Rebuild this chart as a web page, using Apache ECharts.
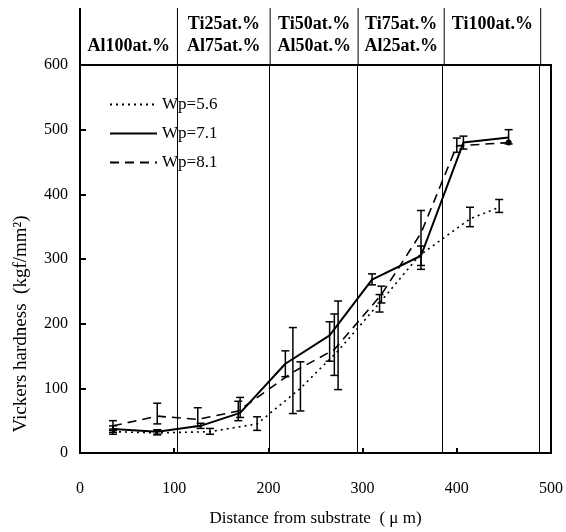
<!DOCTYPE html>
<html><head><meta charset="utf-8">
<script src="https://cdn.jsdelivr.net/npm/echarts@6/dist/echarts.min.js"></script>
<style>html,body{margin:0;padding:0;background:#fff}#c{width:566px;height:532px}</style>
</head><body><div id="c"></div>
<script>
// ---- data ----
const seriesNames = ['Wp=5.6', 'Wp=7.1', 'Wp=8.1'];
const x56 = [35, 82, 138, 188, 234, 274, 318, 360, 414, 445];
const y56 = [33, 31, 33, 45, 100, 158, 232, 305, 362, 380];
const lo56 = [29, 28, 29, 35, 65, 98, 218, null, 350, 372];
const hi56 = [37, 35, 38, 56, 141, 235, 245, null, 380, 392];

const x71 = [35, 82, 128, 170, 218, 265, 310, 362, 407, 455];
const y71 = [37, 33, 42, 62, 138, 182, 268, 305, 480, 488];
const lo71 = [32, 29, 38, 55, 118, 142, 260, 284, 470, 478];
const hi71 = [42, 36, 46, 86, 158, 203, 277, 320, 490, 500];

const x81 = [35, 82, 125, 168, 226, 270, 320, 362, 400, 455];
const y81 = [42, 57, 52, 65, 125, 160, 245, 340, 475, 480];
const lo81 = [35, 45, 41, 50, 61, 120, 232, 290, 465, null];
const hi81 = [50, 77, 70, 80, 194, 215, 258, 375, 487, null];

const xTicks = [0, 100, 200, 300, 400, 500];
const yTicks = [0, 100, 200, 300, 400, 500, 600];
const regionBounds = [0, 103, 201, 294, 385, 487];
const regionTop = ['', 'Ti25at.%', 'Ti50at.%', 'Ti75at.%', 'Ti100at.%'];
const regionBottom = ['Al100at.%', 'Al75at.%', 'Al50at.%', 'Al25at.%', ''];
const xName = 'Distance from substrate  ( \u03bc m)';
const yName = 'Vickers hardness  (kgf/mm\u00b2)';

// ---- build ----
const FONT = '"Liberation Serif", "DejaVu Serif", serif';
function pairs(xs, ys) { return xs.map((x, i) => [x, ys[i]]); }
function bars(xs, lo, hi) {
  const out = [];
  xs.forEach((x, i) => { if (lo[i] != null) out.push([x, lo[i], hi[i]]); });
  return out;
}
function errRender(params, api) {
  const x = api.value(0);
  const a = api.coord([x, api.value(1)]);
  const b = api.coord([x, api.value(2)]);
  const w = 4;
  const st = { stroke: '#000', lineWidth: 1.5 };
  return { type: 'group', children: [
    { type: 'line', shape: { x1: a[0], y1: a[1], x2: b[0], y2: b[1] }, style: st },
    { type: 'line', shape: { x1: a[0] - w, y1: a[1], x2: a[0] + w, y2: a[1] }, style: st },
    { type: 'line', shape: { x1: b[0] - w, y1: b[1], x2: b[0] + w, y2: b[1] }, style: st }
  ]};
}
const headerLabels = regionTop.map((t, i) => [(regionBounds[i] + regionBounds[i + 1]) / 2, t, regionBottom[i]]);

const chart = echarts.init(document.getElementById('c'));
chart.setOption({
  animation: false,
  backgroundColor: '#fff',
  grid: [
    { left: 80, right: 13, top: 65, bottom: 71, show: true, borderColor: '#000', borderWidth: 2 },
    { left: 80, right: 13, top: 8, height: 57 }
  ],
  xAxis: [
    { type: 'value', gridIndex: 0, min: xTicks[0], max: xTicks[xTicks.length - 1], interval: 100,
      axisLine: { lineStyle: { color: '#000', width: 2 } },
      axisTick: { inside: true, length: 5, lineStyle: { color: '#000', width: 2 } },
      axisLabel: { color: '#000', fontFamily: FONT, fontSize: 16, margin: 28 },
      splitLine: { show: false },
      name: xName, nameLocation: 'middle', nameGap: 57,
      nameTextStyle: { color: '#000', fontFamily: FONT, fontSize: 17 } },
    { type: 'value', gridIndex: 1, min: 0, max: 500, show: false }
  ],
  yAxis: [
    { type: 'value', gridIndex: 0, min: yTicks[0], max: yTicks[yTicks.length - 1], interval: 100,
      axisLine: { lineStyle: { color: '#000', width: 2 } },
      axisTick: { inside: true, length: 6, lineStyle: { color: '#000', width: 2 } },
      axisLabel: { color: '#000', fontFamily: FONT, fontSize: 16, margin: 12 },
      splitLine: { show: false },
      name: yName, nameLocation: 'middle', nameGap: 49, nameRotate: 90,
      nameTextStyle: { color: '#000', fontFamily: FONT, fontSize: 19, padding: [0, 130, 0, 0] } },
    { type: 'value', gridIndex: 1, min: 0, max: 1, show: false }
  ],
  legend: {
    orient: 'vertical', left: 104, top: 91, itemGap: 12, itemWidth: 47, itemHeight: 14,
    data: seriesNames,
    itemStyle: { opacity: 0, borderWidth: 0 },
    textStyle: { color: '#000', fontFamily: FONT, fontSize: 17 }
  },
  series: [
    { name: seriesNames[0], type: 'line', data: pairs(x56, y56), symbol: 'none',
      lineStyle: { color: '#000', width: 1.6, type: [2, 4] }, itemStyle: { color: '#000' } },
    { name: seriesNames[1], type: 'line', data: pairs(x71, y71), symbol: 'none',
      lineStyle: { color: '#000', width: 2, type: 'solid' }, itemStyle: { color: '#000' },
      markLine: { silent: true, symbol: 'none', label: { show: false },
        lineStyle: { color: '#000', width: 1, type: 'solid' },
        data: regionBounds.slice(1).map(v => ({ xAxis: v })) } },
    { name: seriesNames[2], type: 'line', data: pairs(x81, y81), symbol: 'circle', showSymbol: true,
      symbolSize: function (v, p) { return p.dataIndex === x81.length - 1 ? 6 : 0; },
      lineStyle: { color: '#000', width: 1.6, type: [9, 6] }, itemStyle: { color: '#000' } },
    { type: 'custom', renderItem: errRender, data: bars(x56, lo56, hi56), xAxisIndex: 0, yAxisIndex: 0, silent: true },
    { type: 'custom', renderItem: errRender, data: bars(x71, lo71, hi71), xAxisIndex: 0, yAxisIndex: 0, silent: true },
    { type: 'custom', renderItem: errRender, data: bars(x81, lo81, hi81), xAxisIndex: 0, yAxisIndex: 0, silent: true },
    { type: 'custom', xAxisIndex: 1, yAxisIndex: 1, silent: true, data: regionBounds,
      renderItem: function (p, api) {
        const a = api.coord([api.value(0), 0]);
        const b = api.coord([api.value(0), 1]);
        return { type: 'line', shape: { x1: a[0], y1: a[1], x2: b[0], y2: b[1] },
          style: { stroke: '#000', lineWidth: api.value(0) === 0 ? 2 : 1 } };
      } },
    { type: 'custom', xAxisIndex: 1, yAxisIndex: 1, silent: true, data: headerLabels,
      renderItem: function (p, api) {
        const item = headerLabels[p.dataIndex];
        const t = api.coord([item[0], 0.72]);
        const b = api.coord([item[0], 0.32]);
        const f = 'bold 18px ' + FONT;
        return { type: 'group', children: [
          { type: 'text', style: { text: item[1], x: t[0], y: t[1], align: 'center', verticalAlign: 'middle', font: f, fill: '#000' } },
          { type: 'text', style: { text: item[2], x: b[0], y: b[1], align: 'center', verticalAlign: 'middle', font: f, fill: '#000' } }
        ]};
      } }
  ]
});
</script></body></html>
